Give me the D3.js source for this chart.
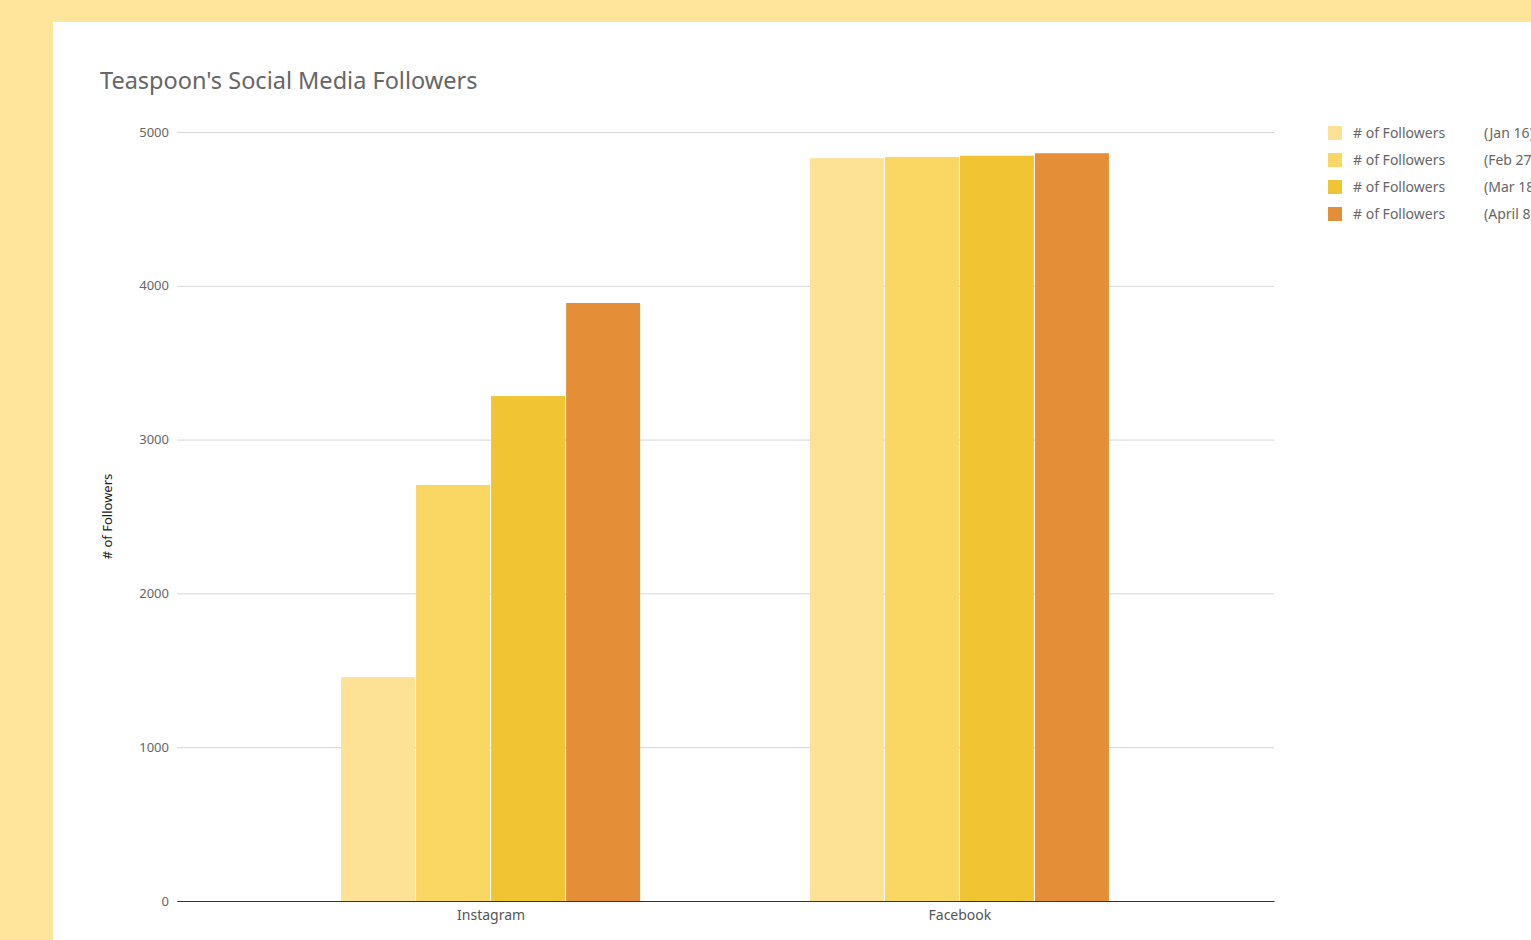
<!DOCTYPE html>
<html>
<head>
<meta charset="UTF-8">
<title>Teaspoon's Social Media Followers</title>
<script src="https://cdnjs.cloudflare.com/ajax/libs/d3/7.8.5/d3.min.js"></script>
<style>
	body { margin:0; background:#ffe59c; overflow:hidden; }
	#chart { position:absolute; left:53px; top:22px; width:1478px; height:918px; background:#fff; }
	text { font-family: "Noto Sans", "DejaVu Sans", sans-serif; }
</style>
</head>
<body>
<div id="chart"></div>
<script>
// chart data
var categories = ["Instagram", "Facebook"];
var seriesNames = ["(Jan 16)", "(Feb 27)", "(Mar 18)", "(April 8)"];
var jan16 = [1456, 4830];
var feb27 = [2705, 4838];
var mar18 = [3283, 4846];
var april8 = [3888, 4862];
var yTicks = [0, 1000, 2000, 3000, 4000, 5000];
var colors = ["#fde296", "#fad662", "#f0c433", "#e48f37"];

var allSeries = [jan16, feb27, mar18, april8];

// panel offset is 53,22 so coordinates below are relative to the white panel
var svg = d3.select("#chart").append("svg")
	.attr("width", 1478)
	.attr("height", 918);

var plotLeft = 124, plotRight = 1221, plotTop = 110, plotBottom = 879;

var yScale = d3.scaleLinear().domain([0, 5000]).range([plotBottom, plotTop]);

var xScale = d3.scaleBand()
	.domain(categories)
	.range([plotLeft, plotRight])
	.paddingInner(0.36)
	.paddingOuter(0.35);

var xInner = d3.scaleBand()
	.domain(d3.range(seriesNames.length))
	.range([0, xScale.bandwidth()]);

// title
svg.append("text")
	.attr("x", 47)
	.attr("y", 67)
	.attr("font-size", "23.5px")
	.attr("fill", "#666")
	.text("Teaspoon's Social Media Followers");

// gridlines + labels
var yAxis = d3.axisLeft(yScale)
	.tickValues(yTicks)
	.tickSize(-(plotRight - plotLeft))
	.tickPadding(8)
	.tickFormat(d3.format("d"));

var gy = svg.append("g")
	.attr("transform", "translate(" + plotLeft + ",0)")
	.call(yAxis);
gy.select(".domain").remove();
gy.selectAll(".tick line").attr("stroke", "#d6d6d6");
gy.selectAll(".tick text").attr("fill", "#666").attr("font-size", "13px");

// y axis title
svg.append("text")
	.attr("transform", "translate(59," + ((plotTop + plotBottom) / 2) + ") rotate(-90)")
	.attr("text-anchor", "middle")
	.attr("font-size", "13px")
	.attr("fill", "#222")
	.text("# of Followers");

// bars
var groups = svg.selectAll(".grp")
	.data(categories)
	.enter().append("g")
	.attr("class", "grp")
	.attr("transform", function(d){ return "translate(" + xScale(d) + ",0)"; });

groups.selectAll("rect")
	.data(function(d, i){
		return allSeries.map(function(s, j){ return {s: j, v: s[i]}; });
	})
	.enter().append("rect")
	.attr("x", function(d){ return xInner(d.s); })
	.attr("y", function(d){ return yScale(d.v); })
	.attr("width", xInner.bandwidth() - 1)
	.attr("height", function(d){ return plotBottom - yScale(d.v); })
	.attr("fill", function(d){ return colors[d.s]; });

// baseline + category labels
var xAxis = d3.axisBottom(xScale).tickSize(0).tickPadding(9);
var gx = svg.append("g")
	.attr("transform", "translate(0," + plotBottom + ")")
	.call(xAxis);
gx.select(".domain").attr("stroke", "#333").attr("stroke-width", 1.2);
gx.selectAll(".tick text").attr("fill", "#555").attr("font-size", "14px");

// legend
var legend = svg.selectAll(".leg")
	.data(seriesNames)
	.enter().append("g")
	.attr("class", "leg")
	.attr("transform", function(d, i){ return "translate(1275," + (104 + i * 27) + ")"; });

legend.append("rect")
	.attr("width", 14)
	.attr("height", 14)
	.attr("fill", function(d, i){ return colors[i]; });

legend.append("text")
	.attr("x", 25)
	.attr("y", 12)
	.attr("font-size", "14px")
	.attr("fill", "#666")
	.text("# of Followers");

legend.append("text")
	.attr("x", 156)
	.attr("y", 12)
	.attr("font-size", "14px")
	.attr("fill", "#666")
	.text(function(d){ return d; });
</script>
</body>
</html>
